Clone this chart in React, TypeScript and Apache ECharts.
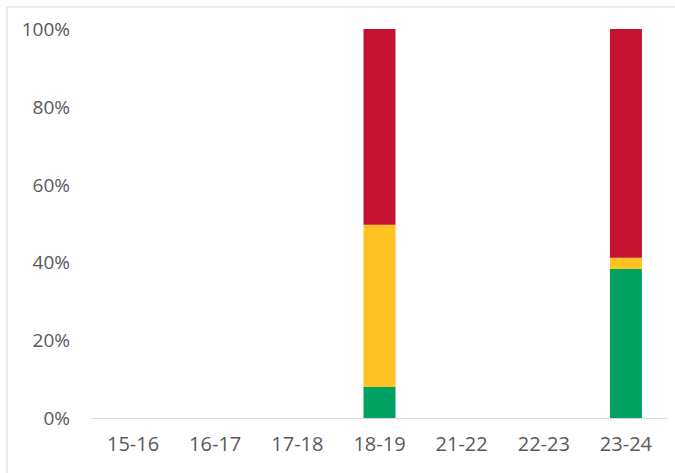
import React, { useEffect, useRef } from "react";
import * as echarts from "echarts";

const categories = ["15-16", "16-17", "17-18", "18-19", "21-22", "22-23", "23-24"];
const greenValues = [null, null, null, 8.0, null, null, 38.3];
const yellowValues = [null, null, null, 41.7, null, null, 2.9];
const redValues = [null, null, null, 50.3, null, null, 58.8];
const yTicks = [0, 20, 40, 60, 80, 100];

export default function App() {
  const ref = useRef<HTMLDivElement>(null);
  useEffect(() => {
    document.body.style.margin = "0";
    const chart = echarts.init(ref.current!, null, { renderer: "svg" });
    const font = "Open Sans";
    const mk = (name: string, data: (number | null)[], color: string) => ({
      name,
      type: "bar",
      stack: "total",
      data,
      barWidth: 32,
      itemStyle: { color },
    });
    chart.setOption({
      animation: false,
      backgroundColor: "#ffffff",
      grid: { left: 92, right: 8, top: 29, bottom: 55, containLabel: false },
      xAxis: {
        type: "category",
        data: categories,
        axisLine: { lineStyle: { color: "#d9d9d9", width: 1 } },
        axisTick: { show: false },
        axisLabel: { color: "#595959", fontSize: 20, fontFamily: font, margin: 15 },
      },
      yAxis: {
        type: "value",
        min: yTicks[0],
        max: yTicks[yTicks.length - 1],
        interval: 20,
        splitLine: { show: false },
        axisLine: { show: false },
        axisTick: { show: false },
        axisLabel: {
          color: "#595959",
          fontSize: 19,
          fontFamily: font,
          margin: 22,
          formatter: "{value}%",
        },
      },
      graphic: [
        {
          type: "rect",
          shape: { x: 7, y: 7, width: 700, height: 500 },
          style: { fill: "none", stroke: "#d9d9d9", lineWidth: 1 },
          silent: true,
        },
      ],
      series: [
        mk("Green", greenValues, "#00a262"),
        mk("Yellow", yellowValues, "#ffc222"),
        mk("Red", redValues, "#c41230"),
      ],
    });
    return () => chart.dispose();
  }, []);
  return <div ref={ref} style={{ width: 675, height: 473 }} />;
}
